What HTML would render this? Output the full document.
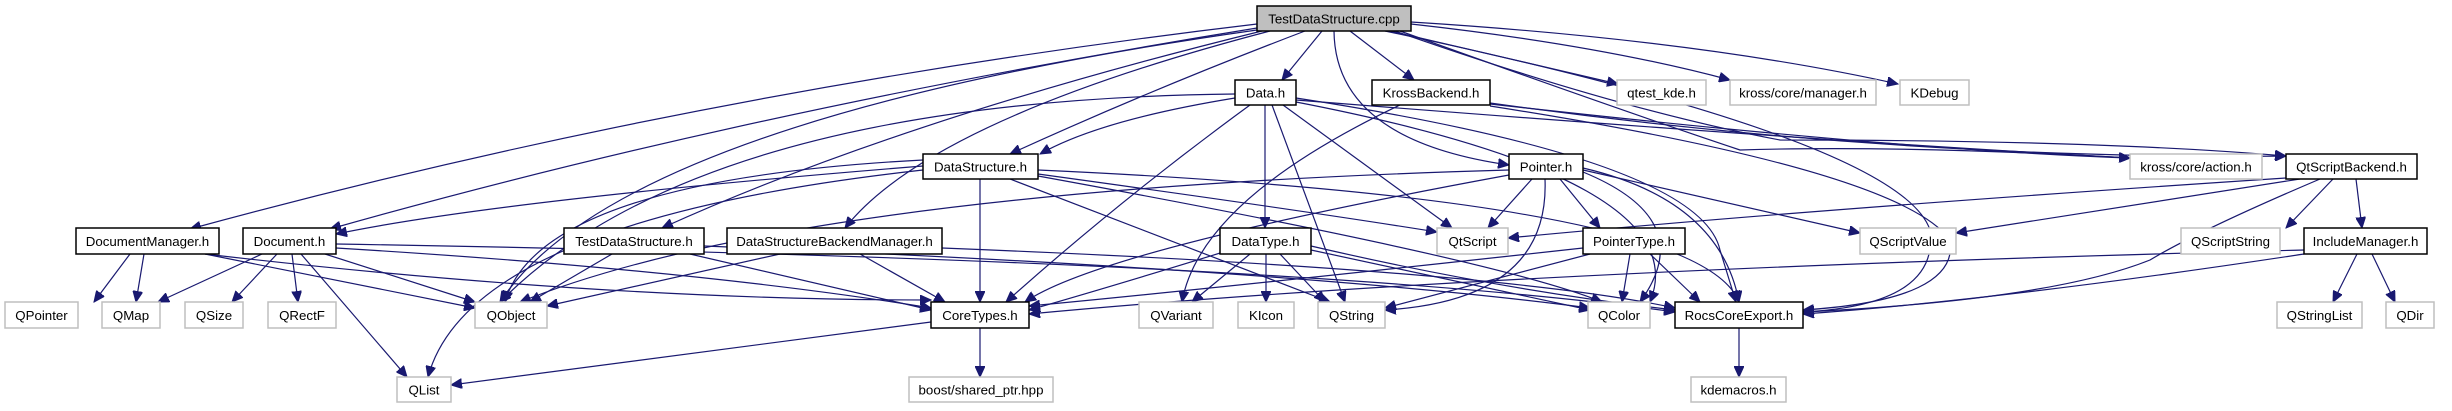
<!DOCTYPE html>
<html><head><meta charset="utf-8"><style>
html,body{margin:0;padding:0;background:#fff;}
svg{display:block;}
text{font-family:"Liberation Sans",Arial,sans-serif;font-size:13.3px;fill:#000;text-anchor:middle;}
.d{fill:#fff;stroke:#000;stroke-width:1.5;}
.g{fill:#fff;stroke:#bfbfbf;stroke-width:1.5;}
.c{fill:#bfbfbf;stroke:#000;stroke-width:1.5;}
path.e{fill:none;stroke:#191970;stroke-width:1.2;marker-end:url(#a);}
</style></head><body>
<svg width="2452" height="411" viewBox="0 0 2452 411" xmlns="http://www.w3.org/2000/svg">
<defs><marker id="a" markerUnits="userSpaceOnUse" markerWidth="12" markerHeight="10" refX="11" refY="5" orient="auto"><path d="M0,0 L11,5 L0,10 z" fill="#191970" stroke="#191970"/></marker></defs>
<g>
<!-- from TestDataStructure.cpp -->
<path class="e" d="M1257,24 Q700,90 190,229"/>
<path class="e" d="M1257,28 Q750,110 330,229"/>
<path class="e" d="M1257,30 Q620,120 500,302"/>
<path class="e" d="M1262,31 Q900,120 662,228"/>
<path class="e" d="M1270,31 Q930,120 845,228"/>
<path class="e" d="M1305,31 Q1150,90 1010,154"/>
<path class="e" d="M1322,31 L1282,80"/>
<path class="e" d="M1350,31 L1414,80"/>
<path class="e" d="M1334,31 Q1335,140 1509,165"/>
<path class="e" d="M1390,31 L1618,84"/>
<path class="e" d="M1411,24 Q1600,45 1730,80"/>
<path class="e" d="M1411,22 Q1700,40 1898,84"/>
<path class="e" d="M1400,31 Q1620,110 1740,150 Q1900,145 2130,158"/>
<path class="e" d="M1395,31 Q1620,110 1780,140 Q2100,140 2286,156"/>
<path class="e" d="M1385,31 Q1900,140 1930,230 Q1940,305 1803,312"/>
<!-- Data.h -->
<path class="e" d="M1235,98 Q1100,120 1040,154"/>
<path class="e" d="M1235,94 Q700,100 500,302"/>
<path class="e" d="M1250,105 Q1120,200 1006,302"/>
<path class="e" d="M1265,105 L1265,228"/>
<path class="e" d="M1272,105 L1345,302"/>
<path class="e" d="M1283,105 L1452,228"/>
<path class="e" d="M1296,98 Q1700,160 1720,250 L1736,302"/>
<path class="e" d="M1296,100 Q1800,140 2130,158"/>
<path class="e" d="M1296,102 Q1700,180 1650,302"/>
<!-- KrossBackend.h -->
<path class="e" d="M1400,105 Q1200,200 1182,302"/>
<path class="e" d="M1490,104 Q1900,150 2130,158"/>
<path class="e" d="M1490,103 Q1900,160 2286,156"/>
<path class="e" d="M1490,106 Q1900,170 1950,240 Q1960,300 1803,310"/>
<!-- DataStructure.h -->
<path class="e" d="M923,166 Q500,200 336,234"/>
<path class="e" d="M923,160 Q540,180 505,302"/>
<path class="e" d="M923,170 Q470,220 428,377"/>
<path class="e" d="M980,179 L980,302"/>
<path class="e" d="M1010,179 L1330,302"/>
<path class="e" d="M1038,174 Q1300,210 1437,232"/>
<path class="e" d="M1038,170 Q1700,200 1739,302"/>
<path class="e" d="M1038,176 Q1500,260 1602,302"/>
<!-- Pointer.h -->
<path class="e" d="M1509,170 Q800,190 520,302"/>
<path class="e" d="M1509,175 Q1100,250 1025,302"/>
<path class="e" d="M1532,179 L1488,228"/>
<path class="e" d="M1560,179 L1600,228"/>
<path class="e" d="M1583,170 L1860,233"/>
<path class="e" d="M1545,179 Q1550,300 1385,310"/>
<path class="e" d="M1583,172 Q1700,220 1640,302"/>
<path class="e" d="M1583,168 Q1720,200 1739,302"/>
<!-- DocumentManager.h -->
<path class="e" d="M130,254 L94,302"/>
<path class="e" d="M144,254 L136,302"/>
<path class="e" d="M205,254 L475,308"/>
<path class="e" d="M205,254 Q600,300 931,300"/>
<!-- Document.h -->
<path class="e" d="M262,254 L158,302"/>
<path class="e" d="M277,254 L232,302"/>
<path class="e" d="M292,254 L298,302"/>
<path class="e" d="M301,254 L407,377"/>
<path class="e" d="M325,254 L475,302"/>
<path class="e" d="M336,248 Q700,270 931,308"/>
<path class="e" d="M336,244 Q1300,260 1675,312"/>
<!-- TestDataStructure.h -->
<path class="e" d="M612,254 L530,302"/>
<path class="e" d="M690,254 L931,310"/>
<path class="e" d="M704,246 Q1300,270 1590,308"/>
<!-- DSBM -->
<path class="e" d="M780,254 L547,306"/>
<path class="e" d="M860,254 L945,302"/>
<path class="e" d="M942,248 Q1500,270 1675,308"/>
<!-- DataType.h -->
<path class="e" d="M1230,250 Q1100,290 1029,310"/>
<path class="e" d="M1250,254 L1192,302"/>
<path class="e" d="M1266,254 L1266,302"/>
<path class="e" d="M1280,254 L1325,302"/>
<path class="e" d="M1311,250 L1590,310"/>
<path class="e" d="M1311,246 Q1500,290 1675,310"/>
<!-- PointerType.h -->
<path class="e" d="M1583,248 Q1200,290 1029,306"/>
<path class="e" d="M1590,254 L1385,308"/>
<path class="e" d="M1630,254 L1622,302"/>
<path class="e" d="M1650,254 L1700,302"/>
<!-- CoreTypes, Rocs -->
<path class="e" d="M931,322 L451,385"/>
<path class="e" d="M980,328 L980,377"/>
<path class="e" d="M1739,328 L1739,377"/>
<!-- QtScriptBackend.h -->
<path class="e" d="M2286,178 Q1800,210 1508,238"/>
<path class="e" d="M2300,179 L1956,233"/>
<path class="e" d="M2333,179 L2286,228"/>
<path class="e" d="M2356,179 L2362,228"/>
<path class="e" d="M2320,179 Q2200,230 2150,260 Q2050,300 1803,312"/>
<!-- IncludeManager.h -->
<path class="e" d="M2357,254 L2333,302"/>
<path class="e" d="M2372,254 L2395,302"/>
<path class="e" d="M2304,254 Q2000,300 1803,314"/>
<path class="e" d="M2304,250 Q1500,270 1029,314"/>
</g>
<g>
<rect class="c" x="1257" y="6" width="154" height="25"/><text x="1334" y="23.5">TestDataStructure.cpp</text>
<rect class="d" x="1235" y="80" width="61" height="25"/><text x="1265.5" y="97.5">Data.h</text>
<rect class="d" x="1372" y="80" width="118" height="25"/><text x="1431" y="97.5">KrossBackend.h</text>
<rect class="g" x="1617" y="80" width="89" height="25"/><text x="1661.5" y="97.5">qtest_kde.h</text>
<rect class="g" x="1730" y="80" width="146" height="25"/><text x="1803" y="97.5">kross/core/manager.h</text>
<rect class="g" x="1900" y="80" width="69" height="25"/><text x="1934.5" y="97.5">KDebug</text>
<rect class="d" x="923" y="154" width="115" height="25"/><text x="980.5" y="171.5">DataStructure.h</text>
<rect class="d" x="1509" y="154" width="74" height="25"/><text x="1546" y="171.5">Pointer.h</text>
<rect class="g" x="2130" y="154" width="132" height="25"/><text x="2196" y="171.5">kross/core/action.h</text>
<rect class="d" x="2286" y="154" width="131" height="25"/><text x="2351.5" y="171.5">QtScriptBackend.h</text>
<rect class="d" x="76" y="228" width="143" height="26"/><text x="147.5" y="246">DocumentManager.h</text>
<rect class="d" x="243" y="228" width="93" height="26"/><text x="289.5" y="246">Document.h</text>
<rect class="d" x="564" y="228" width="140" height="26"/><text x="634" y="246">TestDataStructure.h</text>
<rect class="d" x="727" y="228" width="215" height="26"/><text x="834.5" y="246">DataStructureBackendManager.h</text>
<rect class="d" x="1220" y="228" width="91" height="26"/><text x="1265.5" y="246">DataType.h</text>
<rect class="g" x="1437" y="228" width="71" height="26"/><text x="1472.5" y="246">QtScript</text>
<rect class="d" x="1583" y="228" width="102" height="26"/><text x="1634" y="246">PointerType.h</text>
<rect class="g" x="1860" y="228" width="96" height="26"/><text x="1908" y="246">QScriptValue</text>
<rect class="g" x="2181" y="228" width="99" height="26"/><text x="2230.5" y="246">QScriptString</text>
<rect class="d" x="2304" y="228" width="123" height="26"/><text x="2365.5" y="246">IncludeManager.h</text>
<rect class="g" x="5" y="302" width="73" height="26"/><text x="41.5" y="320">QPointer</text>
<rect class="g" x="102" y="302" width="58" height="26"/><text x="131" y="320">QMap</text>
<rect class="g" x="185" y="302" width="58" height="26"/><text x="214" y="320">QSize</text>
<rect class="g" x="268" y="302" width="68" height="26"/><text x="302" y="320">QRectF</text>
<rect class="g" x="475" y="302" width="72" height="26"/><text x="511" y="320">QObject</text>
<rect class="d" x="931" y="302" width="98" height="26"/><text x="980" y="320">CoreTypes.h</text>
<rect class="g" x="1139" y="302" width="74" height="26"/><text x="1176" y="320">QVariant</text>
<rect class="g" x="1238" y="302" width="56" height="26"/><text x="1266" y="320">KIcon</text>
<rect class="g" x="1318" y="302" width="67" height="26"/><text x="1351.5" y="320">QString</text>
<rect class="g" x="1588" y="302" width="62" height="26"/><text x="1619" y="320">QColor</text>
<rect class="d" x="1675" y="302" width="128" height="26"/><text x="1739" y="320">RocsCoreExport.h</text>
<rect class="g" x="2277" y="302" width="85" height="26"/><text x="2319.5" y="320">QStringList</text>
<rect class="g" x="2386" y="302" width="48" height="26"/><text x="2410" y="320">QDir</text>
<rect class="g" x="397" y="377" width="54" height="25"/><text x="424" y="394.5">QList</text>
<rect class="g" x="909" y="377" width="144" height="25"/><text x="981" y="394.5">boost/shared_ptr.hpp</text>
<rect class="g" x="1691" y="377" width="95" height="25"/><text x="1738.5" y="394.5">kdemacros.h</text>
</g>
</svg>
</body></html>
